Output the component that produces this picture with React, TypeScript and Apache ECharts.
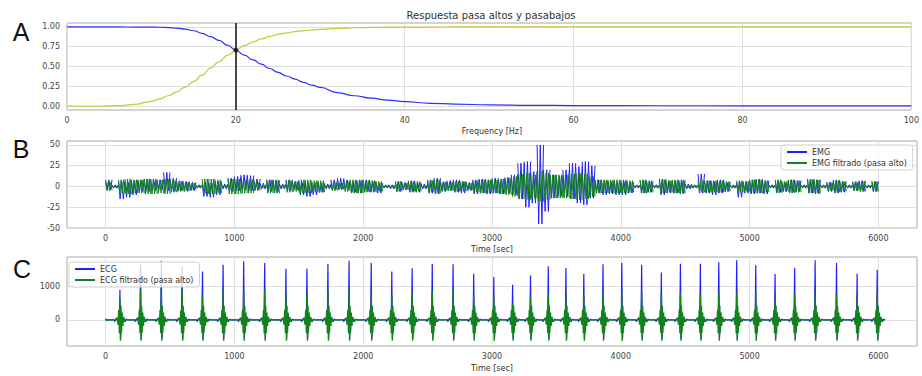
import React, { useEffect, useRef } from "react";
import * as echarts from "echarts";

// ---------- Panel A: filter responses ----------
const freqHz = [0, 2, 4, 6, 8, 10, 11, 12, 13, 14, 15, 16, 17, 18, 19, 20, 21, 22, 23, 24, 25, 26, 27, 28, 29, 30, 32, 34, 36, 38, 40, 43, 46, 50, 55, 60, 70, 80, 90, 100];
const lowpassGain = [1, 1, 1, 1, 0.999, 0.998, 0.996, 0.992, 0.985, 0.972, 0.952, 0.92, 0.878, 0.83, 0.77, 0.707, 0.645, 0.585, 0.53, 0.475, 0.425, 0.38, 0.34, 0.3, 0.265, 0.235, 0.17, 0.13, 0.1, 0.075, 0.055, 0.035, 0.024, 0.015, 0.009, 0.006, 0.004, 0.003, 0.002, 0.002];
const highpassGain = [0, 0, 0, 0.005, 0.02, 0.06, 0.09, 0.13, 0.18, 0.24, 0.31, 0.39, 0.48, 0.56, 0.64, 0.707, 0.765, 0.81, 0.85, 0.88, 0.905, 0.925, 0.94, 0.953, 0.963, 0.97, 0.982, 0.99, 0.994, 0.997, 0.998, 0.999, 1, 1, 1, 1, 1, 1, 1, 1];
const cutoffHz = 20;
const cutoffGain = 0.707;

// ---------- Panel B: EMG envelope (min / max) per 50 s bin ----------
const emgBinWidth = 50;
const emgRawHigh = [
  8, 2, 6, 5, 7, 8, 9, 7, 8, 17,
  10, 7, 6, 5, 2, 5, 4, 6, 3, 10,
  12, 14, 13, 9, 4, 8, 7, 3, 8, 6,
  5, 4, 5, 4, 3, 8, 10, 8, 6, 7,
  8, 6, 4, 2, 2, 6, 5, 7, 4, 3,
  8, 10, 6, 7, 8, 6, 5, 8, 9, 8,
  10, 9, 11, 14, 28, 30, 18, 50, 20, 14,
  12, 20, 28, 24, 30, 25, 8, 7, 6, 5,
  6, 5, 2, 7, 6, 2, 9, 7, 6, 7,
  3, 2, 15, 7, 6, 8, 5, 2, 5, 6,
  8, 9, 7, 2, 7, 5, 8, 7, 2, 9,
  8, 2, 5, 8, 6, 2, 6, 7, 2, 6,
];
const emgRawLow = [
  -4, -2, -15, -13, -10, -6, -6, -5, -4, -5,
  -6, -5, -6, -5, -2, -12, -13, -10, -3, -6,
  -5, -4, -5, -4, -3, -6, -7, -3, -5, -4,
  -10, -12, -10, -7, -3, -4, -3, -4, -7, -8,
  -6, -6, -8, -2, -3, -6, -4, -7, -7, -3,
  -8, -9, -6, -5, -7, -8, -5, -9, -8, -9,
  -8, -9, -8, -10, -15, -25, -20, -45, -30, -14,
  -12, -12, -15, -20, -22, -14, -8, -10, -9, -10,
  -10, -8, -2, -8, -7, -2, -10, -8, -8, -9,
  -3, -2, -8, -8, -10, -8, -6, -2, -13, -8,
  -9, -8, -9, -2, -7, -6, -7, -6, -2, -8,
  -9, -2, -6, -8, -7, -2, -5, -6, -2, -6,
];
const emgFiltAmp = [
  5, 1.2, 8, 9, 8, 8, 9, 9, 8, 9,
  7, 6, 5, 4, 1.2, 9, 9, 8, 1.5, 9,
  9, 8, 8, 5, 1.5, 8, 8, 1.5, 7, 6,
  8, 8, 7, 7, 1.5, 5, 4, 6, 8, 8,
  7, 7, 6, 1.2, 1.2, 6, 4, 6, 6, 1.5,
  7, 8, 5, 5, 6, 6, 4, 7, 8, 8,
  8, 9, 10, 12, 15, 16, 14, 18, 16, 14,
  14, 14, 15, 16, 15, 12, 8, 8, 8, 8,
  8, 7, 1.2, 8, 7, 1.2, 8, 7, 8, 8,
  1.5, 1.2, 7, 7, 7, 7, 6, 1.2, 7, 6,
  8, 8, 7, 1.2, 8, 6, 8, 7, 1.2, 8,
  8, 1.2, 5, 7, 6, 1.2, 5, 6, 1.2, 6,
];

// ---------- Panel C: ECG beats ----------
const ecgBeatTimes = [111, 271, 432, 594, 752, 912, 1072, 1235, 1400, 1563, 1726, 1890, 2062, 2222, 2380, 2536, 2698, 2858, 3014, 3160, 3299, 3437, 3574, 3713, 3862, 4008, 4162, 4315, 4463, 4618, 4761, 4900, 5048, 5198, 5350, 5509, 5675, 5835, 5991];
const ecgRawPeaks = [900, 1650, 1770, 1600, 1450, 1650, 1750, 1700, 1530, 1530, 1680, 1770, 1700, 1450, 1540, 1670, 1660, 1380, 1280, 1050, 1330, 1600, 1550, 1380, 1660, 1700, 1650, 1420, 1680, 1680, 1720, 1780, 1630, 1370, 1550, 1780, 1700, 1380, 1500];
const ecgFiltPeaks = [650, 900, 900, 870, 750, 870, 870, 870, 780, 780, 870, 900, 770, 730, 800, 870, 850, 730, 700, 500, 700, 770, 750, 700, 800, 850, 820, 775, 800, 800, 820, 800, 820, 700, 780, 800, 800, 690, 800];
// beat waveform shapes (offset in s, value; null value = peak)
const rawBeatShape: [number, number | null][] = [[-48, 0], [-40, -50], [-30, 40], [-20, 0], [-5, -120], [0, null], [5, -570], [10, -180], [18, 0], [30, 60], [40, -60], [50, 30], [60, 0]];
const filtBeatShape: [number, number | null][] = [[-30, 0], [-21, 70], [-15, -140], [-9, 300], [-4, -400], [0, null], [4, -620], [8, 420], [12, -380], [17, 220], [22, -180], [28, 90], [35, -50], [43, 0]];

// ---------- ticks ----------
const freqTicks = [0, 20, 40, 60, 80, 100];
const gainTicks = [0, 0.25, 0.5, 0.75, 1];
const timeTicks = [0, 1000, 2000, 3000, 4000, 5000, 6000];
const emgTicks = [-50, -25, 0, 25, 50];
const ecgTicks = [0, 1000];

const FONT = "DejaVu Sans";
const BLUE = "#1f1fff";
const GREEN = "#11821e";

function buildEcg(peaks: number[], shape: [number, number | null][]) {
  const pts: number[][] = [[0, 30], [8, -20], [16, 0]];
  ecgBeatTimes.forEach((t, k) => {
    shape.forEach(([dt, v]) => pts.push([t + dt, v === null ? peaks[k] : v]));
  });
  pts.push([6000, 0]);
  return pts;
}

const labelStyle = { fontFamily: FONT, fontSize: 8, color: "#444" };
const splitLine = { show: true, lineStyle: { color: "#dedede", width: 1 } };

function xAxisDef(gridIndex: number, min: number, max: number, ticks: number[]) {
  return {
    type: "value",
    gridIndex,
    min,
    max,
    axisLine: { show: false },
    axisTick: { show: false, customValues: ticks },
    axisLabel: { ...labelStyle, margin: 6, customValues: ticks, formatter: (v: number) => String(v), showMinLabel: true, showMaxLabel: true },
    splitLine,
  };
}
function yAxisDef(gridIndex: number, min: number, max: number, ticks: number[], fmt: (v: number) => string) {
  return {
    type: "value",
    gridIndex,
    min,
    max,
    axisLine: { show: false },
    axisTick: { show: false, customValues: ticks },
    axisLabel: { ...labelStyle, margin: 7, customValues: ticks, formatter: fmt, showMinLabel: true, showMaxLabel: true },
    splitLine,
  };
}

// draws each bin's min/max envelope as a dense trace that swings between the two limits
function traceRender(color: string, swings: number, width: number) {
  return (params: any, api: any) => {
    const x0 = api.value(0);
    const lo = api.value(1);
    const hi = api.value(2);
    const a = api.coord([x0, hi]);
    const b = api.coord([x0 + emgBinWidth, lo]);
    const pts: number[][] = [];
    for (let k = 0; k <= swings; k++) {
      pts.push([a[0] + ((b[0] - a[0]) * k) / swings, k % 2 === 0 ? a[1] : b[1]]);
    }
    return {
      type: "polyline",
      shape: { points: pts },
      style: { stroke: color, lineWidth: width, fill: "none" },
    };
  };
}

export default function App() {
  const ref = useRef<HTMLDivElement>(null);
  useEffect(() => {
    if (!ref.current) return;
    const chart = echarts.init(ref.current, undefined, { renderer: "svg" });
    const gridBase = { left: 67, width: 850, show: true, borderColor: "#a8a8a8", borderWidth: 1, backgroundColor: "#fff" };
    const legendBase = {
      orient: "vertical",
      backgroundColor: "rgba(255,255,255,0.8)",
      borderColor: "#d0d0d0",
      borderWidth: 1,
      borderRadius: 3,
      padding: [3, 6, 3, 6],
      itemGap: 3,
      itemWidth: 20,
      itemHeight: 2,
      icon: "rect",
      textStyle: { fontFamily: FONT, fontSize: 8, color: "#333" },
      z: 10,
    };
    chart.setOption({
      animation: false,
      backgroundColor: "#fff",
      grid: [
        { ...gridBase, top: 23, height: 87 },
        { ...gridBase, top: 141, height: 87 },
        { ...gridBase, top: 257, height: 89 },
      ],
      xAxis: [
        xAxisDef(0, 0, 100, freqTicks),
        xAxisDef(1, -300, 6300, timeTicks),
        xAxisDef(2, -300, 6300, timeTicks),
      ],
      yAxis: [
        yAxisDef(0, -0.05, 1.05, gainTicks, (v) => v.toFixed(2)),
        yAxisDef(1, -50, 54.75, emgTicks, (v) => String(v)),
        yAxisDef(2, -780, 1880, ecgTicks, (v) => String(v)),
      ],
      legend: [
        { ...legendBase, data: ["EMG", "EMG filtrado (pasa alto)"], left: 781, top: 145 },
        { ...legendBase, data: ["ECG", "ECG filtrado (pasa alto)"], left: 69, top: 262 },
      ],
      series: [
        {
          name: "Pasa bajos",
          type: "line",
          xAxisIndex: 0,
          yAxisIndex: 0,
          data: freqHz.map((f, i) => [f, lowpassGain[i]]),
          smooth: true,
          smoothMonotone: "x",
          symbol: "none",
          lineStyle: { color: "#3030ff", width: 1.2 },
          markLine: {
            silent: true,
            symbol: "none",
            label: { show: false },
            lineStyle: { color: "#111", width: 1.5, type: "solid" },
            data: [{ xAxis: cutoffHz }],
          },
        },
        {
          name: "Pasa altos",
          type: "line",
          xAxisIndex: 0,
          yAxisIndex: 0,
          data: freqHz.map((f, i) => [f, highpassGain[i]]),
          smooth: true,
          smoothMonotone: "x",
          symbol: "none",
          lineStyle: { color: "#c8c83a", width: 1.2 },
        },
        {
          name: "Corte",
          type: "scatter",
          xAxisIndex: 0,
          yAxisIndex: 0,
          data: [[cutoffHz, cutoffGain]],
          symbolSize: 5,
          itemStyle: { color: "#111" },
          z: 5,
        },
        {
          name: "EMG",
          type: "custom",
          xAxisIndex: 1,
          yAxisIndex: 1,
          data: emgRawHigh.map((h, i) => [i * emgBinWidth, emgRawLow[i], h]),
          encode: { x: 0, y: [1, 2] },
          renderItem: traceRender(BLUE, 4, 1),
          itemStyle: { color: BLUE },
          clip: true,
        },
        {
          name: "EMG filtrado (pasa alto)",
          type: "custom",
          xAxisIndex: 1,
          yAxisIndex: 1,
          data: emgFiltAmp.map((g, i) => [i * emgBinWidth, -g, g]),
          encode: { x: 0, y: [1, 2] },
          renderItem: traceRender(GREEN, 5, 1),
          itemStyle: { color: GREEN },
          clip: true,
        },
        {
          name: "ECG",
          type: "line",
          xAxisIndex: 2,
          yAxisIndex: 2,
          data: buildEcg(ecgRawPeaks, rawBeatShape),
          symbol: "none",
          color: BLUE,
          lineStyle: { color: BLUE, width: 1.2 },
        },
        {
          name: "ECG filtrado (pasa alto)",
          type: "line",
          xAxisIndex: 2,
          yAxisIndex: 2,
          data: buildEcg(ecgFiltPeaks, filtBeatShape),
          symbol: "none",
          color: GREEN,
          lineStyle: { color: GREEN, width: 1.4 },
        },
      ],
      graphic: [
        { type: "text", x: 21, y: 32, style: { text: "A", fontSize: 25, fontFamily: "Liberation Sans", fill: "#111", align: "center", verticalAlign: "middle" } },
        { type: "text", x: 21, y: 149, style: { text: "B", fontSize: 25, fontFamily: "Liberation Sans", fill: "#111", align: "center", verticalAlign: "middle" } },
        { type: "text", x: 22, y: 269, style: { text: "C", fontSize: 25, fontFamily: "Liberation Sans", fill: "#111", align: "center", verticalAlign: "middle" } },
        { type: "text", x: 491, y: 15, style: { text: "Respuesta pasa altos y pasabajos", fontSize: 10, fontFamily: FONT, fill: "#333", align: "center", verticalAlign: "middle" } },
        { type: "text", x: 492, y: 131, style: { text: "Frequency [Hz]", fontSize: 8, fontFamily: FONT, fill: "#333", align: "center", verticalAlign: "middle" } },
        { type: "text", x: 492, y: 249, style: { text: "Time [sec]", fontSize: 8, fontFamily: FONT, fill: "#333", align: "center", verticalAlign: "middle" } },
        { type: "text", x: 492, y: 368, style: { text: "Time [sec]", fontSize: 8, fontFamily: FONT, fill: "#333", align: "center", verticalAlign: "middle" } },
      ],
    });
    return () => chart.dispose();
  }, []);
  return <div ref={ref} style={{ position: "absolute", left: 0, top: 0, width: 922, height: 376 }} />;
}
